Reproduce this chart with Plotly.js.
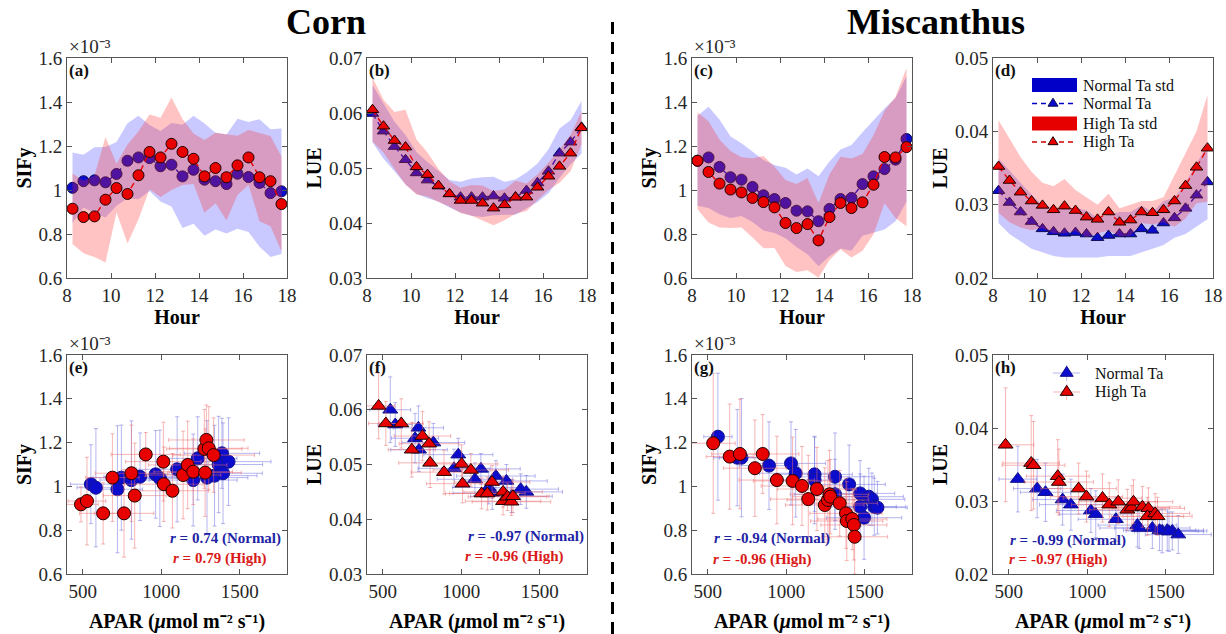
<!DOCTYPE html>
<html>
<head>
<meta charset="utf-8">
<script src="https://cdn.plot.ly/plotly-3.0.1.min.js"></script>
<style>
  html, body { margin: 0; padding: 0; background: #fff; }
  #chart { width: 1226px; height: 634px; }
</style>
</head>
<body>
<div id="chart"></div>
<script>
// ---------- Diurnal courses (half-hourly means and std) ----------
const hours = [8.25, 8.75, 9.25, 9.75, 10.25, 10.75, 11.25, 11.75, 12.25, 12.75,
               13.25, 13.75, 14.25, 14.75, 15.25, 15.75, 16.25, 16.75, 17.25, 17.75];

// Corn SIFy (x10^-3)
const cornSifNormal   = [1.01, 1.04, 1.044, 1.035, 1.073, 1.133, 1.148, 1.145, 1.108, 1.115, 1.062, 1.092, 1.047, 1.04, 1.027, 1.074, 1.059, 1.032, 0.986, 0.994];
const cornSifNormalSd = [0.16, 0.12, 0.15, 0.16, 0.145, 0.17, 0.19, 0.15, 0.16, 0.19, 0.235, 0.245, 0.255, 0.22, 0.225, 0.25, 0.25, 0.29, 0.29, 0.285];
const cornSifHigh     = [0.915, 0.877, 0.88, 0.956, 1.009, 0.982, 1.067, 1.173, 1.148, 1.21, 1.173, 1.142, 1.062, 1.1, 1.058, 1.112, 1.148, 1.058, 1.04, 0.936];
const cornSifHighSd   = [0.16, 0.165, 0.185, 0.285, 0.11, 0.225, 0.2, 0.17, 0.18, 0.21, 0.15, 0.115, 0.165, 0.16, 0.195, 0.135, 0.125, 0.2, 0.205, 0.215];

// Corn LUE
const cornLueNormal   = [0.0599, 0.0567, 0.0539, 0.0515, 0.0491, 0.0478, 0.0467, 0.0453, 0.0447, 0.0447, 0.0447, 0.0449, 0.0445, 0.0447, 0.0459, 0.0473, 0.0494, 0.0527, 0.0547, 0.0574];
const cornLueNormalSd = [0.0052, 0.005, 0.0045, 0.0045, 0.0038, 0.0033, 0.0028, 0.0025, 0.0028, 0.0034, 0.0036, 0.0035, 0.003, 0.0032, 0.0033, 0.0035, 0.004, 0.0045, 0.004, 0.0048];
const cornLueHigh     = [0.0606, 0.0576, 0.055, 0.0538, 0.0502, 0.0488, 0.0468, 0.0453, 0.0441, 0.0441, 0.0436, 0.0427, 0.0433, 0.0447, 0.0447, 0.0465, 0.0485, 0.0503, 0.0527, 0.0573];
const cornLueHighSd   = [0.0058, 0.0048, 0.0052, 0.0068, 0.005, 0.004, 0.003, 0.0023, 0.0023, 0.0028, 0.0032, 0.0031, 0.0028, 0.003, 0.0025, 0.0023, 0.0025, 0.003, 0.0033, 0.003];

// Miscanthus SIFy (x10^-3)
const miscSifNormal   = [1.133, 1.148, 1.105, 1.058, 1.047, 1.014, 0.976, 0.959, 0.941, 0.906, 0.903, 0.858, 0.914, 0.959, 0.964, 1.027, 1.062, 1.095, 1.138, 1.232];
const miscSifNormalSd = [0.205, 0.23, 0.215, 0.185, 0.165, 0.16, 0.16, 0.155, 0.16, 0.165, 0.195, 0.205, 0.215, 0.225, 0.24, 0.235, 0.255, 0.275, 0.28, 0.285];
const miscSifHigh     = [1.133, 1.082, 1.029, 1.002, 0.989, 0.964, 0.945, 0.921, 0.85, 0.827, 0.845, 0.771, 0.877, 0.941, 0.918, 0.944, 1.024, 1.15, 1.148, 1.195];
const miscSifHighSd   = [0.22, 0.23, 0.2, 0.175, 0.16, 0.18, 0.21, 0.185, 0.195, 0.2, 0.21, 0.17, 0.195, 0.21, 0.225, 0.22, 0.225, 0.21, 0.275, 0.36];

// Miscanthus LUE
const miscLueNormal   = [0.0319, 0.0303, 0.029, 0.0277, 0.0267, 0.0263, 0.0261, 0.0262, 0.026, 0.0255, 0.0258, 0.026, 0.026, 0.0267, 0.0265, 0.0275, 0.0282, 0.0295, 0.0313, 0.0331];
const miscLueNormalSd = [0.0044, 0.0043, 0.004, 0.0037, 0.0032, 0.0033, 0.0033, 0.0034, 0.0032, 0.0027, 0.0028, 0.003, 0.003, 0.0032, 0.0025, 0.003, 0.0027, 0.0035, 0.0043, 0.0051];
const miscLueHigh     = [0.0352, 0.0333, 0.0317, 0.0305, 0.0299, 0.0293, 0.0298, 0.0292, 0.0283, 0.028, 0.029, 0.0276, 0.0279, 0.029, 0.0289, 0.0293, 0.0305, 0.0326, 0.0351, 0.0377];
const miscLueHighSd   = [0.0063, 0.0057, 0.0048, 0.004, 0.0031, 0.0032, 0.0037, 0.0028, 0.0027, 0.002, 0.0025, 0.0019, 0.0021, 0.0015, 0.0016, 0.0017, 0.0035, 0.0045, 0.0049, 0.0073];

// ---------- Responses to APAR (mean +/- std) ----------
// Corn SIFy vs APAR
const cornAparSifN = [552, 584, 721, 746, 810, 865, 964, 991, 1101, 1203, 1232, 1291, 1339, 1365, 1386, 1393, 1428];
const cornAparSifNErr = [130, 120, 160, 180, 200, 230, 250, 230, 260, 280, 250, 260, 270, 280, 240, 250, 270];
const cornSifVsAparN = [1.01, 0.994, 0.987, 1.04, 1.029, 1.044, 1.055, 1.037, 1.078, 1.029, 1.128, 1.04, 1.049, 1.1, 1.151, 1.06, 1.113];
const cornSifVsAparNErr = [0.18, 0.27, 0.29, 0.24, 0.27, 0.2, 0.2, 0.22, 0.24, 0.21, 0.19, 0.26, 0.23, 0.22, 0.16, 0.23, 0.2];
const cornAparSifH = [489, 527, 630, 689, 763, 810, 831, 901, 1013, 1016, 1071, 1139, 1168, 1203, 1279, 1274, 1287, 1302, 1333];
const cornAparSifHErr = [110, 120, 150, 170, 190, 230, 200, 220, 240, 250, 230, 240, 250, 250, 230, 240, 240, 250, 260];
const cornSifVsAparH = [0.918, 0.933, 0.877, 1.04, 0.877, 1.06, 0.958, 1.146, 1.113, 1.01, 0.98, 1.052, 1.098, 1.067, 1.063, 1.171, 1.212, 1.174, 1.143];
const cornSifVsAparHErr = [0.08, 0.2, 0.14, 0.2, 0.2, 0.22, 0.24, 0.1, 0.18, 0.17, 0.17, 0.2, 0.2, 0.15, 0.2, 0.18, 0.16, 0.19, 0.17];

// Corn LUE vs APAR
const cornAparLueN = [548, 580, 706, 727, 731, 822, 954, 981, 1087, 1125, 1175, 1197, 1220, 1287, 1319, 1378, 1414];
const cornAparLueNErr = [130, 110, 150, 160, 180, 200, 230, 220, 240, 250, 230, 250, 250, 260, 260, 240, 230];
const cornLueVsAparN = [0.060, 0.0573, 0.0548, 0.0567, 0.0527, 0.054, 0.0493, 0.0518, 0.0473, 0.0492, 0.0458, 0.0448, 0.0479, 0.047, 0.0442, 0.0455, 0.045];
const cornLueVsAparNErr = [0.006, 0.004, 0.0045, 0.004, 0.004, 0.0035, 0.0035, 0.003, 0.003, 0.0028, 0.003, 0.003, 0.0028, 0.003, 0.003, 0.0028, 0.003];
const cornAparLueH = [474, 520, 618, 685, 753, 795, 802, 890, 1002, 1008, 1061, 1129, 1166, 1196, 1266, 1266, 1294, 1319, 1329];
const cornAparLueHErr = [100, 110, 140, 150, 180, 190, 200, 210, 230, 230, 240, 230, 240, 240, 250, 240, 250, 250, 230];
const cornLueVsAparH = [0.0607, 0.0575, 0.0575, 0.0527, 0.0552, 0.0538, 0.0503, 0.0486, 0.0501, 0.0465, 0.049, 0.0447, 0.0447, 0.0468, 0.045, 0.0433, 0.0441, 0.0432, 0.0442];
const cornLueVsAparHErr = [0.006, 0.004, 0.0045, 0.005, 0.0045, 0.004, 0.0045, 0.004, 0.0035, 0.0035, 0.003, 0.0028, 0.003, 0.003, 0.0028, 0.0025, 0.0025, 0.0025, 0.003];

// Miscanthus SIFy vs APAR
const miscAparSifN = [565, 688, 715, 890, 1030, 1060, 1180, 1180, 1310, 1310, 1400, 1470, 1470, 1495, 1525, 1545, 1560, 1580];
const miscAparSifNErr = [90, 150, 140, 190, 220, 230, 240, 250, 250, 260, 230, 220, 230, 240, 220, 210, 200, 190];
const miscSifVsAparN = [1.227, 1.131, 1.131, 1.095, 1.105, 1.06, 1.055, 1.029, 1.044, 0.964, 1.009, 0.968, 0.907, 0.857, 0.953, 0.941, 0.907, 0.903];
const miscSifVsAparNErr = [0.29, 0.22, 0.27, 0.2, 0.19, 0.2, 0.17, 0.2, 0.2, 0.16, 0.18, 0.15, 0.15, 0.19, 0.13, 0.12, 0.13, 0.12];
const miscAparSifH = [535, 640, 705, 800, 850, 940, 1040, 1100, 1140, 1195, 1245, 1265, 1275, 1280, 1340, 1380, 1385, 1420, 1430, 1435];
const miscAparSifHErr = [140, 150, 180, 200, 230, 240, 250, 260, 240, 250, 250, 260, 250, 240, 240, 230, 230, 220, 210, 210];
const miscSifVsAparH = [1.197, 1.136, 1.148, 1.083, 1.148, 1.029, 1.025, 1.002, 0.942, 0.988, 0.915, 0.938, 0.964, 0.953, 0.923, 0.877, 0.842, 0.851, 0.824, 0.77];
const miscSifVsAparHErr = [0.32, 0.24, 0.25, 0.22, 0.18, 0.2, 0.2, 0.18, 0.2, 0.19, 0.17, 0.18, 0.2, 0.17, 0.15, 0.16, 0.18, 0.14, 0.16, 0.17];

// Miscanthus LUE vs APAR
const miscAparLueN = [558, 681, 734, 843, 896, 1023, 1054, 1182, 1319, 1330, 1414, 1477, 1509, 1541, 1579, 1460, 1520];
const miscAparLueNErr = [120, 150, 160, 190, 200, 220, 230, 240, 250, 250, 240, 230, 230, 220, 210, 230, 220];
const miscLueVsAparN = [0.033, 0.0317, 0.0312, 0.0302, 0.0295, 0.0287, 0.0282, 0.0275, 0.0267, 0.0263, 0.0263, 0.0259, 0.026, 0.0259, 0.0254, 0.026, 0.0258];
const miscLueVsAparNErr = [0.0045, 0.004, 0.004, 0.0035, 0.0035, 0.003, 0.0032, 0.003, 0.003, 0.0028, 0.0028, 0.003, 0.0028, 0.0026, 0.0026, 0.0028, 0.0027];
const miscAparLueH = [480, 643, 658, 812, 819, 945, 995, 1097, 1140, 1197, 1255, 1283, 1294, 1351, 1389, 1383, 1432, 1447];
const miscAparLueHErr = [180, 180, 200, 200, 220, 240, 230, 250, 240, 250, 240, 240, 250, 240, 230, 230, 220, 220];
const miscLueVsAparH = [0.0377, 0.0352, 0.0349, 0.0334, 0.0326, 0.0317, 0.0306, 0.0304, 0.0295, 0.0299, 0.0288, 0.0291, 0.0299, 0.0292, 0.029, 0.0279, 0.0283, 0.0279];
const miscLueVsAparHErr = [0.0078, 0.0065, 0.006, 0.005, 0.0045, 0.0035, 0.0035, 0.0033, 0.003, 0.003, 0.0028, 0.003, 0.003, 0.0028, 0.0028, 0.0026, 0.0027, 0.0026];

// Correlation labels
const corrText = [
  ['0.74', '0.79'],
  ['-0.97', '-0.96'],
  ['-0.94', '-0.96'],
  ['-0.99', '-0.97']
];

// Tick definitions
const hourTicks = [8, 10, 12, 14, 16, 18];
const aparTicks = [500, 1000, 1500];
const sifTicks = [0.6, 0.8, 1.0, 1.2, 1.4, 1.6];
const sifTickText = ['0.6', '0.8', '1', '1.2', '1.4', '1.6'];
const lueCornTicks = [0.03, 0.04, 0.05, 0.06, 0.07];
const lueMiscTicks = [0.02, 0.03, 0.04, 0.05];

// ---------- styling ----------
const W = 1226, H = 634;
const SERIF = 'Liberation Serif, Times New Roman, serif';
const BLUE = 'rgb(12,12,205)';
const BLUE_EDGE = 'rgb(10,10,80)';
const RED = 'rgb(232,0,0)';
const RED_EDGE = 'rgb(30,0,0)';
const BLUE_BAND = 'rgba(60,60,255,0.28)';
const RED_BAND = 'rgba(255,40,40,0.28)';
const BLUE_ERR = 'rgba(110,110,225,0.5)';
const RED_ERR = 'rgba(240,110,110,0.5)';
const BLUE_TXT = 'rgb(30,35,165)';
const RED_TXT = 'rgb(218,25,25)';
const AX_COL = '#555';

// plot-area boxes in pixels: [left, right], [top, bottom]
const colsPx = [[67, 287], [367, 587], [692, 912], [993, 1213]];
const rowsPx = [[58, 278], [355, 574]];
const xdom = c => [c[0] / W, c[1] / W];
const ydom = r => [1 - r[1] / H, 1 - r[0] / H];

// italic fragment with an explicit size, so nested text keeps its metrics
const ital = (s, size) => '<span style="font-style:italic;font-size:' + size + 'px">' + s + '</span>';

// ---------- trace builders ----------
function bandTrace(x, m, s, color, n) {
  const up = m.map((v, i) => v + s[i]);
  const lo = m.map((v, i) => v - s[i]);
  return {
    type: 'scatter', mode: 'lines',
    x: x.concat(x.slice().reverse()),
    y: up.concat(lo.slice().reverse()),
    fill: 'toself', fillcolor: color, line: { width: 0 },
    hoverinfo: 'skip', xaxis: 'x' + n, yaxis: 'y' + n
  };
}
function meanTrace(x, y, sym, fill, edge, lineColor, n) {
  return {
    type: 'scatter', mode: 'lines+markers', x: x, y: y,
    line: { color: lineColor, width: 1.4, dash: '6px,4px' },
    marker: { symbol: sym, size: 11, color: fill, line: { color: edge, width: 1 } },
    xaxis: 'x' + n, yaxis: 'y' + n
  };
}
function scatTrace(x, y, ex, ey, sym, fill, edge, errColor, n) {
  return {
    type: 'scatter', mode: 'markers', x: x, y: y,
    error_x: { type: 'data', array: ex, color: errColor, thickness: 1, width: 2 },
    error_y: { type: 'data', array: ey, color: errColor, thickness: 1, width: 2 },
    marker: { symbol: sym, size: 13, color: fill, line: { color: edge, width: 1 } },
    xaxis: 'x' + n, yaxis: 'y' + n
  };
}

const traces = [
  // (a) corn SIFy diurnal
  bandTrace(hours, cornSifNormal, cornSifNormalSd, BLUE_BAND, ''),
  meanTrace(hours, cornSifNormal, 'circle', BLUE, BLUE_EDGE, BLUE, ''),
  bandTrace(hours, cornSifHigh, cornSifHighSd, RED_BAND, ''),
  meanTrace(hours, cornSifHigh, 'circle', RED, RED_EDGE, RED, ''),
  // (b) corn LUE diurnal
  bandTrace(hours, cornLueNormal, cornLueNormalSd, BLUE_BAND, 2),
  meanTrace(hours, cornLueNormal, 'triangle-up', BLUE, BLUE_EDGE, BLUE, 2),
  bandTrace(hours, cornLueHigh, cornLueHighSd, RED_BAND, 2),
  meanTrace(hours, cornLueHigh, 'triangle-up', RED, RED_EDGE, RED, 2),
  // (c) miscanthus SIFy diurnal
  bandTrace(hours, miscSifNormal, miscSifNormalSd, BLUE_BAND, 3),
  meanTrace(hours, miscSifNormal, 'circle', BLUE, BLUE_EDGE, BLUE, 3),
  bandTrace(hours, miscSifHigh, miscSifHighSd, RED_BAND, 3),
  meanTrace(hours, miscSifHigh, 'circle', RED, RED_EDGE, RED, 3),
  // (d) miscanthus LUE diurnal
  bandTrace(hours, miscLueNormal, miscLueNormalSd, BLUE_BAND, 4),
  meanTrace(hours, miscLueNormal, 'triangle-up', BLUE, BLUE_EDGE, BLUE, 4),
  bandTrace(hours, miscLueHigh, miscLueHighSd, RED_BAND, 4),
  meanTrace(hours, miscLueHigh, 'triangle-up', RED, RED_EDGE, RED, 4),
  // (e) corn SIFy vs APAR
  scatTrace(cornAparSifN, cornSifVsAparN, cornAparSifNErr, cornSifVsAparNErr, 'circle', BLUE, 'rgb(20,20,140)', BLUE_ERR, 5),
  scatTrace(cornAparSifH, cornSifVsAparH, cornAparSifHErr, cornSifVsAparHErr, 'circle', RED, RED_EDGE, RED_ERR, 5),
  // (f) corn LUE vs APAR
  scatTrace(cornAparLueN, cornLueVsAparN, cornAparLueNErr, cornLueVsAparNErr, 'triangle-up', BLUE, 'rgb(20,20,140)', BLUE_ERR, 6),
  scatTrace(cornAparLueH, cornLueVsAparH, cornAparLueHErr, cornLueVsAparHErr, 'triangle-up', RED, RED_EDGE, RED_ERR, 6),
  // (g) miscanthus SIFy vs APAR
  scatTrace(miscAparSifN, miscSifVsAparN, miscAparSifNErr, miscSifVsAparNErr, 'circle', BLUE, 'rgb(20,20,140)', BLUE_ERR, 7),
  scatTrace(miscAparSifH, miscSifVsAparH, miscAparSifHErr, miscSifVsAparHErr, 'circle', RED, RED_EDGE, RED_ERR, 7),
  // (h) miscanthus LUE vs APAR
  scatTrace(miscAparLueN, miscLueVsAparN, miscAparLueNErr, miscLueVsAparNErr, 'triangle-up', BLUE, 'rgb(20,20,140)', BLUE_ERR, 8),
  scatTrace(miscAparLueH, miscLueVsAparH, miscAparLueHErr, miscLueVsAparHErr, 'triangle-up', RED, RED_EDGE, RED_ERR, 8)
];

// ---------- axes ----------
const tickFont = { family: SERIF, size: 19, color: '#262626' };
const titleFont = { family: SERIF, size: 20, color: '#000', weight: 'bold' };
const axBase = {
  ticks: 'inside', ticklen: 5, tickcolor: AX_COL, tickwidth: 1,
  showline: true, linecolor: AX_COL, linewidth: 1, mirror: 'ticks',
  showgrid: false, zeroline: false, tickfont: tickFont, fixedrange: true
};
const aparTitle = 'APAR (' + ital('\u03bc', 20) + 'mol m\u207b\u00b2 s\u207b\u00b9)';

const panels = [
  { n: '', col: 0, row: 0, x: 'hour', y: 'sif' },
  { n: 2, col: 1, row: 0, x: 'hour', y: 'lueC' },
  { n: 3, col: 2, row: 0, x: 'hour', y: 'sif' },
  { n: 4, col: 3, row: 0, x: 'hour', y: 'lueM' },
  { n: 5, col: 0, row: 1, x: 'apar', y: 'sif' },
  { n: 6, col: 1, row: 1, x: 'apar', y: 'lueC' },
  { n: 7, col: 2, row: 1, x: 'apar', y: 'sif' },
  { n: 8, col: 3, row: 1, x: 'apar', y: 'lueM' }
];
const letters = ['(a)', '(b)', '(c)', '(d)', '(e)', '(f)', '(g)', '(h)'];

const layout = {
  width: W, height: H,
  margin: { l: 0, r: 0, t: 0, b: 0 },
  paper_bgcolor: '#fff', plot_bgcolor: '#fff',
  showlegend: false,
  font: { family: SERIF },
  annotations: [], shapes: []
};

panels.forEach((p, i) => {
  const xa = Object.assign({}, axBase, {
    domain: xdom(colsPx[p.col]), anchor: 'y' + p.n
  });
  if (p.x === 'hour') {
    Object.assign(xa, { range: [8, 18], tickvals: hourTicks,
      title: { text: 'Hour', font: titleFont, standoff: 5 } });
  } else {
    Object.assign(xa, { range: [400, 1800], tickvals: aparTicks,
      title: { text: aparTitle, font: titleFont, standoff: 13 } });
  }
  const ya = Object.assign({}, axBase, {
    domain: ydom(rowsPx[p.row]), anchor: 'x' + p.n
  });
  if (p.y === 'sif') {
    Object.assign(ya, { range: [0.6, 1.6], tickvals: sifTicks, ticktext: sifTickText,
      title: { text: 'SIFy', font: titleFont, standoff: 1 } });
  } else if (p.y === 'lueC') {
    Object.assign(ya, { range: [0.03, 0.07], tickvals: lueCornTicks, tickformat: '.2f',
      title: { text: 'LUE', font: titleFont, standoff: 1 } });
  } else {
    Object.assign(ya, { range: [0.02, 0.05], tickvals: lueMiscTicks, tickformat: '.2f',
      title: { text: 'LUE', font: titleFont, standoff: 1 } });
  }
  layout['xaxis' + p.n] = xa;
  layout['yaxis' + p.n] = ya;

  // panel letter
  layout.annotations.push({
    text: letters[i], xref: 'x' + p.n + ' domain', yref: 'y' + p.n + ' domain',
    x: 0, y: 1, xanchor: 'left', yanchor: 'top', xshift: 0, yshift: -1, showarrow: false,
    font: { family: SERIF, size: 17, color: '#111', weight: 'bold' }
  });
  // exponent for SIFy axes
  if (p.y === 'sif') {
    layout.annotations.push({
      text: '\u00d710\u207b\u00b3', xref: 'x' + p.n + ' domain', yref: 'y' + p.n + ' domain',
      x: 0, y: 1, xanchor: 'left', yanchor: 'bottom', yshift: -1, showarrow: false,
      font: { family: SERIF, size: 19, color: '#262626' }
    });
  }
});

// correlation coefficients (bottom row)
const corrPos = [
  { n: 5, x: 0.457, yN: 0.164, yH: 0.073, xH: 0.471 },
  { n: 6, x: 0.45, yN: 0.169, yH: 0.078, xH: 0.436 },
  { n: 7, x: 0.091, yN: 0.16, yH: 0.064, xH: 0.086 },
  { n: 8, x: 0.068, yN: 0.155, yH: 0.068, xH: 0.063 }
];
corrPos.forEach((c, i) => {
  layout.annotations.push({
    text: ital('r', 15) + ' = ' + corrText[i][0] + ' (Normal)',
    xref: 'x' + c.n + ' domain', yref: 'y' + c.n + ' domain', x: c.x, y: c.yN,
    xanchor: 'left', yanchor: 'middle', showarrow: false,
    font: { family: SERIF, size: 15, color: BLUE_TXT, weight: 'bold' }
  });
  layout.annotations.push({
    text: ital('r', 15) + ' = ' + corrText[i][1] + ' (High)',
    xref: 'x' + c.n + ' domain', yref: 'y' + c.n + ' domain', x: c.xH, y: c.yH,
    xanchor: 'left', yanchor: 'middle', showarrow: false,
    font: { family: SERIF, size: 15, color: RED_TXT, weight: 'bold' }
  });
});

// crop titles
[['Corn', 326], ['Miscanthus', 936]].forEach(t => {
  layout.annotations.push({
    text: t[0], xref: 'paper', yref: 'paper', x: t[1] / W, y: 1 - 22 / H,
    xanchor: 'center', yanchor: 'middle', showarrow: false,
    font: { family: SERIF, size: 36, color: '#000', weight: 'bold' }
  });
});

// divider between crops
const PX = v => v / W, PY = v => 1 - v / H;
layout.shapes.push({
  type: 'line', xref: 'paper', yref: 'paper',
  x0: PX(612.5), x1: PX(612.5), y0: 0, y1: PY(15),
  line: { color: '#000', width: 3, dash: '12px,8px' }
});

// legend glyph helpers
function tri(cx, cy, w, h, fill, edge) {
  return {
    type: 'path', xref: 'paper', yref: 'paper',
    path: 'M' + PX(cx - w / 2) + ',' + PY(cy + h / 3) + ' L' + PX(cx + w / 2) + ',' + PY(cy + h / 3) +
          ' L' + PX(cx) + ',' + PY(cy - 2 * h / 3) + ' Z',
    fillcolor: fill, line: { color: edge, width: 1 }
  };
}
function seg(x0, y0, x1, y1, color, width, dash) {
  return { type: 'line', xref: 'paper', yref: 'paper', x0: PX(x0), x1: PX(x1), y0: PY(y0), y1: PY(y1),
           line: { color: color, width: width, dash: dash || 'solid' } };
}
function box(x0, y0, x1, y1, color) {
  return { type: 'rect', xref: 'paper', yref: 'paper', x0: PX(x0), x1: PX(x1), y0: PY(y1), y1: PY(y0),
           fillcolor: color, line: { width: 0 } };
}
function legText(txt, x, y) {
  return { text: txt, xref: 'paper', yref: 'paper', x: PX(x), y: PY(y), xanchor: 'left', yanchor: 'middle',
           showarrow: false, font: { family: SERIF, size: 16, color: '#111' } };
}

// legend in (d)
const legD = [
  ['Normal Ta std', 'band', 'rgb(0,0,200)', 85, null, null],
  ['Normal Ta', 'line', 'rgb(0,0,200)', 103.5, BLUE, BLUE_EDGE],
  ['High Ta std', 'band', 'rgb(230,0,0)', 123.5, null, null],
  ['High Ta', 'line', 'rgb(210,0,0)', 142, RED, RED_EDGE]
];
legD.forEach(r => {
  if (r[1] === 'band') {
    layout.shapes.push(box(1032, r[3] - 7, 1077, r[3] + 7, r[2]));
  } else {
    layout.shapes.push(seg(1032, r[3], 1075, r[3], r[2], 1.4, '5px,4px'));
    layout.shapes.push(tri(1053, r[3], 10, 8, r[4], r[5]));
  }
  layout.annotations.push(legText(r[0], 1081, r[3]));
});

// legend in (h)
const legH = [
  ['Normal Ta', BLUE, 'rgb(20,20,140)', BLUE_ERR, 373],
  ['High Ta', RED, RED_EDGE, RED_ERR, 392]
];
legH.forEach(r => {
  layout.shapes.push(seg(1053, r[4], 1080, r[4], r[3], 1));
  layout.shapes.push(seg(1066.7, r[4] - 8, 1066.7, r[4] + 8, r[3], 1));
  layout.shapes.push(tri(1066.7, r[4], 13, 10, r[1], r[2]));
  layout.annotations.push(legText(r[0], 1093, r[4]));
});

Plotly.newPlot('chart', traces, layout, { displayModeBar: false, staticPlot: true });
</script>
</body>
</html>
